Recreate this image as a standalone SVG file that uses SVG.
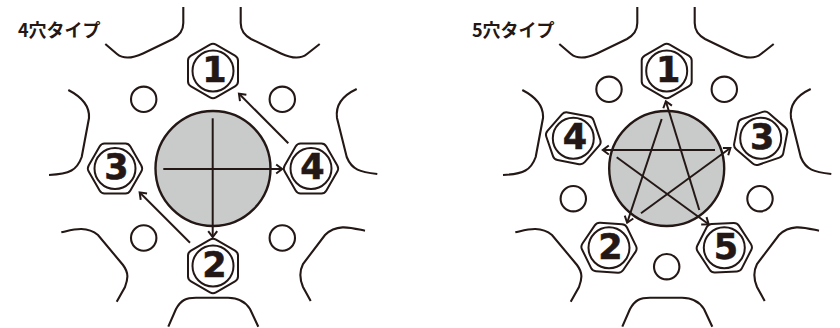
<svg xmlns="http://www.w3.org/2000/svg" width="840" height="328" viewBox="0 0 840 328">
<style>
.w{fill:none;stroke:#231815;stroke-width:2.1;stroke-linecap:butt}
.hub{fill:#c9caca;stroke:#231815;stroke-width:2.4}
.hole{fill:#fff;stroke:#231815;stroke-width:2.1}
.a{fill:none;stroke:#231815;stroke-width:2;marker-end:url(#ah)}
.hx{fill:#fff;stroke:#231815;stroke-width:2;stroke-linejoin:round}
.c{fill:#fff;stroke:#231815;stroke-width:2}
.n{font-family:"DejaVu Sans",sans-serif;font-weight:700;font-size:35px;fill:#231815;stroke:#231815;stroke-width:.6;text-anchor:middle}
.t{font-family:"Noto Sans CJK JP",sans-serif;font-weight:700;font-size:18px;fill:#231815}
</style>
<defs>
<marker id="ah" markerUnits="userSpaceOnUse" markerWidth="12" markerHeight="12" refX="9" refY="6" orient="auto"><path d="M3.500 1.500L9.500 6L3.500 10.500" fill="none" stroke="#231815" stroke-width="2"/></marker>
<g id="spokes">
<path d="M183.300 7V23C183.300 30 180 35 173 39L143 53.500C131 59 123 59 117 54L105.300 44"/>
<path d="M240.700 7V23C240.700 30 244 35 251 39L281 53.500C293 59 301 59 307 54L319.700 44"/>
<path d="M68.300 90C78 95 90 103 89 118L81.700 157C77 170 70 174 49 175"/>
<path d="M356.700 89C346 94 335 103 337 118L346.700 157C352 170 360 172 377.300 174"/>
<path d="M61.300 232.300C72 230 86 225 98 235L123 265C129 273 128 279 125 287L116.700 301.700"/>
<path d="M365 230.700C352 228 337 223 325 235L303 264C299 272 300 280 303 287L310.700 301"/>
<path d="M168.300 326.700L176 309C181 300 186 297.700 196 297.700H228C238 297.700 245 301 250 309L258.300 326.700"/>
</g>
<g id="hexa">
<path class="hx" d="M-3-26.300Q0-28 3-26.300L22-15.400Q25-13.600 25-10.500V10.500Q25 13.600 22 15.400L3 26.300Q0 28-3 26.300L-22 15.400Q-25 13.600-25 10.500V-10.500Q-25-13.600-22-15.400Z"/>
</g>
</defs>
<g id="wheel-4">
<use href="#spokes" class="w"/>
</g>
<g id="wheel-5">
<use href="#spokes" class="w" x="454"/>
</g>
<g id="label-4"><text class="t" x="18" y="37">4穴タイプ</text></g>
<g id="label-5"><text class="t" x="472" y="37">5穴タイプ</text></g>
<g id="hub-4"><circle class="hub" cx="213" cy="168.500" r="57.500"/></g>
<g id="hub-5"><circle class="hub" cx="666.700" cy="168.500" r="57.500"/></g>
<g id="holes-4">
<circle class="hole" cx="143.700" cy="99.300" r="12.700"/>
<circle class="hole" cx="282.300" cy="99.300" r="12.700"/>
<circle class="hole" cx="143.700" cy="238" r="12.700"/>
<circle class="hole" cx="282.300" cy="238" r="12.700"/>
</g>
<g id="holes-5">
<circle class="hole" cx="609" cy="89.300" r="12.700"/>
<circle class="hole" cx="724.300" cy="89.300" r="12.700"/>
<circle class="hole" cx="573.300" cy="198.700" r="12.700"/>
<circle class="hole" cx="760" cy="198.700" r="12.700"/>
<circle class="hole" cx="666.700" cy="266.700" r="12.700"/>
</g>
<g id="nut-4-1" transform="translate(213 71)"><use href="#hexa"/><circle class="c" r="20.500"/><text class="n" x="1.500" y="10.800">1</text></g>
<g id="nut-4-2" transform="translate(213 266)"><use href="#hexa"/><circle class="c" r="20.500"/><text class="n" x="1.500" y="10.800">2</text></g>
<g id="nut-4-3" transform="translate(115 168.500)"><use href="#hexa" transform="rotate(90)"/><circle class="c" r="20.500"/><text class="n" x="1.500" y="10.800">3</text></g>
<g id="nut-4-4" transform="translate(311 168.500)"><use href="#hexa" transform="rotate(90)"/><circle class="c" r="20.500"/><text class="n" x="1.500" y="10.800">4</text></g>
<g id="nut-5-1" transform="translate(666.700 71)"><use href="#hexa"/><circle class="c" r="20.500"/><text class="n" x="1.500" y="10.800">1</text></g>
<g id="nut-5-3" transform="translate(760.700 138.300)"><use href="#hexa" transform="rotate(11)"/><circle class="c" r="20.500"/><text class="n" x="1.500" y="10.800">3</text></g>
<g id="nut-5-4" transform="translate(573.300 138.300)"><use href="#hexa" transform="rotate(-19)"/><circle class="c" r="20.500"/><text class="n" x="1.500" y="10.800">4</text></g>
<g id="nut-5-2" transform="translate(609 247.700)"><use href="#hexa" transform="rotate(-26)"/><circle class="c" r="20.500"/><text class="n" x="1.500" y="10.800">2</text></g>
<g id="nut-5-5" transform="translate(724.300 247.700)"><use href="#hexa" transform="rotate(27)"/><circle class="c" r="20.500"/><text class="n" x="1.500" y="10.800">5</text></g>
<g id="connectors">
<path class="a" d="M288.300 143.300L239.300 94"/>
<path class="a" d="M190 242.700L140 192.700"/>
<path class="a" d="M163.300 169H281.700"/>
<path class="a" d="M212.700 118.300V236.700"/>
<path class="a" d="M699.300 210L666 101.700"/>
<path class="a" d="M661.700 119L627.300 222.300"/>
<path class="a" d="M715 150H603.300"/>
<path class="a" d="M616.700 157.300L708.300 224"/>
<path class="a" d="M641 213.300L730 148.300"/>
</g>
</svg>
